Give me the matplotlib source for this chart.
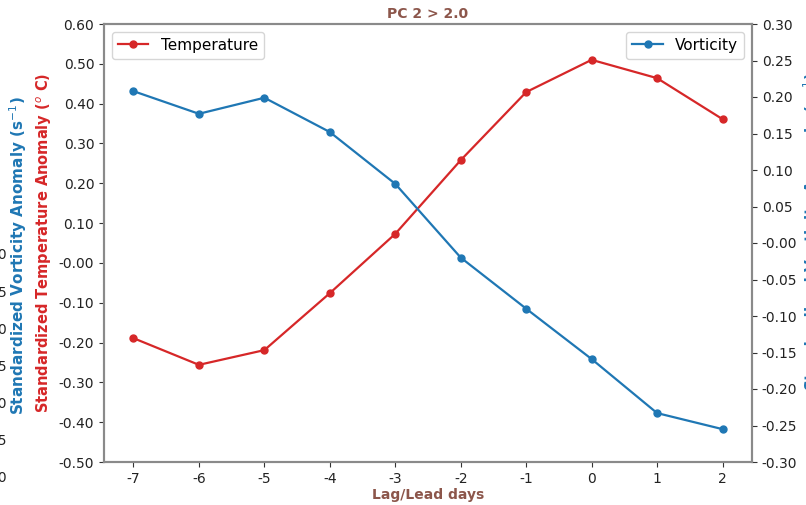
import matplotlib
matplotlib.use("Agg")
import matplotlib.pyplot as plt
from matplotlib.ticker import FormatStrFormatter

plt.rcParams['axes.unicode_minus'] = False

days = [-7, -6, -5, -4, -3, -2, -1, 0, 1, 2]
temperature = [-0.189, -0.256, -0.219, -0.076, 0.073, 0.258, 0.429, 0.510, 0.464, 0.361]
vorticity = [0.208, 0.177, 0.199, 0.152, 0.081, -0.020, -0.090, -0.159, -0.233, -0.255]
left_ticks = [-0.5, -0.4, -0.3, -0.2, -0.1, -0.0, 0.1, 0.2, 0.3, 0.4, 0.5, 0.6]
right_ticks = [-0.30, -0.25, -0.20, -0.15, -0.10, -0.05, -0.0, 0.05, 0.10, 0.15, 0.20, 0.25, 0.30]
clipped_labels = ["0.20", "0.15", "0.10", "0.05", "-0.00", "-0.05", "-0.10"]

RED = '#d62728'
BLUE = '#1f77b4'
BROWN = '#8c564b'
SPINE = '#8a8a8a'

fig = plt.figure(figsize=(8.06, 5.05), dpi=100)
ax = fig.add_axes([104/806, 43/505, (752-104)/806, (462-24)/505])
ax2 = ax.twinx()

l1, = ax.plot(days, temperature, '-o', color=RED, markersize=5, linewidth=1.6, label='Temperature')
l2, = ax2.plot(days, vorticity, '-o', color=BLUE, markersize=5, linewidth=1.6, label='Vorticity')

ax.set_xticks(days)
ax.set_ylim(-0.5, 0.6)
ax.set_yticks(left_ticks)
ax.yaxis.set_major_formatter(FormatStrFormatter('%.2f'))
ax2.set_ylim(-0.3, 0.3)
ax2.set_yticks(right_ticks)
ax2.yaxis.set_major_formatter(FormatStrFormatter('%.2f'))

for a in (ax, ax2):
    for s in a.spines.values():
        s.set_color(SPINE)
        s.set_linewidth(1.5)
    a.tick_params(colors='#333333', labelcolor='#222222', labelsize=10)

ax.set_title('PC 2 > 2.0', color=BROWN, fontweight='bold', fontsize=10, pad=4)
ax.set_xlabel('Lag/Lead days', color=BROWN, fontweight='bold', fontsize=10, labelpad=2)

fig.text(44/806, 1 - 243/505, 'Standardized Temperature Anomaly ($^o$ C)', color=RED,
         fontweight='bold', fontsize=10.5, rotation=90, ha='center', va='center')
fig.text(18/806, 1 - 256/505, 'Standardized Vorticity Anomaly (s$^{-1}$)', color=BLUE,
         fontweight='bold', fontsize=11, rotation=90, ha='center', va='center')
fig.text(801/806, 1 - 232/505, 'Standardized Vorticity Anomaly (s$^{-1}$)', color=BLUE,
         fontweight='bold', fontsize=11, rotation=90, ha='left', va='center')

ys = [255, 293, 330, 367, 404, 441, 478]
for y, t in zip(ys, clipped_labels):
    fig.text(7/806, 1 - y/505, t, color='#222222', fontsize=10, ha='right', va='center')

ax.legend(handles=[l1], loc='upper left', fontsize=11)
ax2.legend(handles=[l2], loc='upper right', fontsize=11)

fig.savefig('out.png', dpi=100)
